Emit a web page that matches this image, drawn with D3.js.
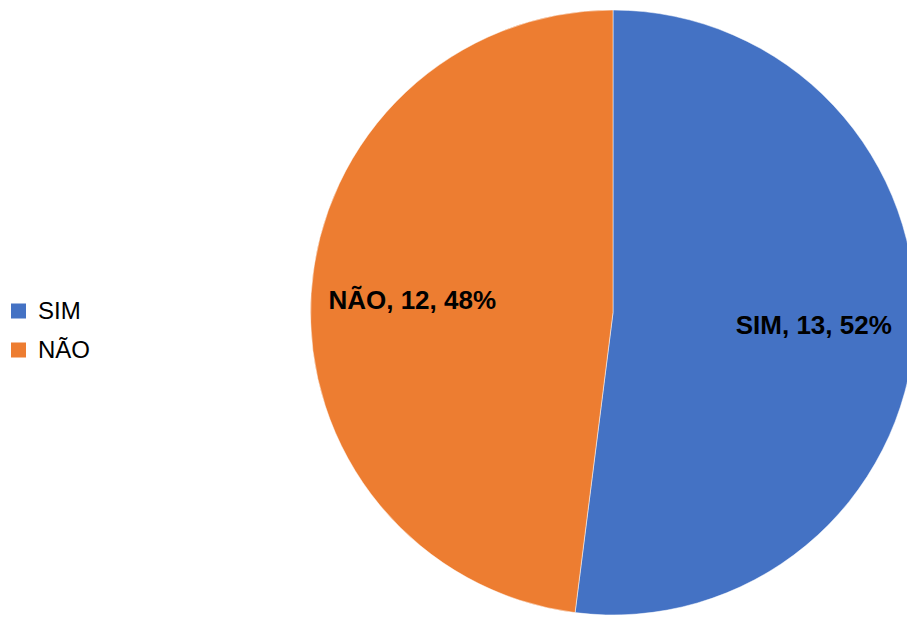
<!DOCTYPE html>
<html>
<head>
<meta charset="utf-8">
<title>SIM / NÃO</title>
<script src="https://cdnjs.cloudflare.com/ajax/libs/d3/7.8.5/d3.min.js"></script>
<style>
  body { margin: 0; background: #fff; }
  svg { display: block; font-family: "Liberation Sans", Arial, sans-serif; }
</style>
</head>
<body>
<div id="chart"></div>
<script>
  // dados
  var categories = ["SIM", "NÃO"];
  var values = [13, 12];
  var colors = ["#4472C4", "#ED7D31"];

  var width = 907, height = 617;
  var cx = 613, cy = 312.5, radius = 302.5;

  var svg = d3.select("#chart").append("svg")
      .attr("width", width)
      .attr("height", height);

  var total = d3.sum(values);
  var data = categories.map(function(c, i) {
    return { name: c, value: values[i], color: colors[i] };
  });

  var pie = d3.pie()
      .sort(null)
      .value(function(d) { return d.value; });

  var arc = d3.arc().innerRadius(0).outerRadius(radius);

  var g = svg.append("g").attr("transform", "translate(" + cx + "," + cy + ")");

  var arcs = pie(data);

  g.selectAll("path.slice")
    .data(arcs)
    .enter().append("path")
      .attr("class", "slice")
      .attr("d", arc)
      .attr("fill", function(d) { return d.data.color; })
      .attr("stroke", "#fff")
      .attr("stroke-width", 0.5);

  // rótulos
  var labelArc = d3.arc().innerRadius(radius * 0.665).outerRadius(radius * 0.665);
  g.selectAll("text.label")
    .data(arcs)
    .enter().append("text")
      .attr("class", "label")
      .attr("transform", function(d) {
        var p = labelArc.centroid(d);
        return "translate(" + p[0] + "," + p[1] + ")";
      })
      .attr("text-anchor", "middle")
      .attr("dy", "0.35em")
      .style("font-size", "26px")
      .style("font-weight", "bold")
      .attr("fill", "#000")
      .text(function(d) {
        return d.data.name + ", " + d.data.value + ", " + Math.round(d.data.value / total * 100) + "%";
      });

  // legenda
  var legend = svg.append("g").attr("transform", "translate(11,311)");
  var item = legend.selectAll("g.item")
    .data(data)
    .enter().append("g")
      .attr("class", "item")
      .attr("transform", function(d, i) { return "translate(0," + (i * 39) + ")"; });

  item.append("rect")
      .attr("x", 0).attr("y", -7.5)
      .attr("width", 15).attr("height", 15)
      .attr("fill", function(d) { return d.color; });

  item.append("text")
      .attr("x", 27)
      .attr("dy", "0.35em")
      .style("font-size", "24px")
      .attr("fill", "#000")
      .text(function(d) { return d.name; });
</script>
</body>
</html>
